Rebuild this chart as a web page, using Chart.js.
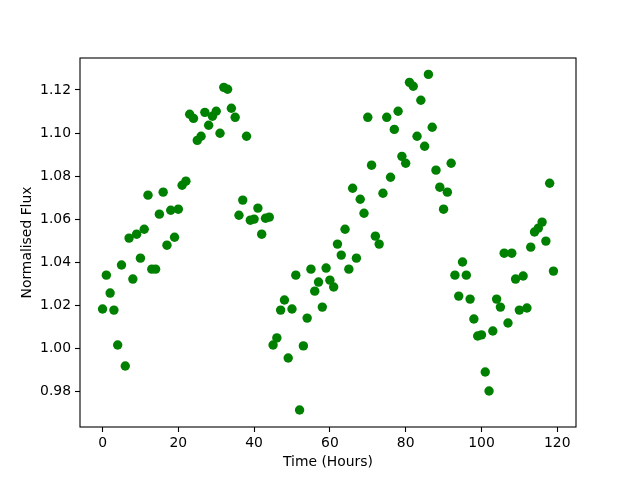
<!DOCTYPE html>
<html>
<head>
<meta charset="utf-8">
<script src="https://cdn.jsdelivr.net/npm/chart.js@4.4.1/dist/chart.umd.min.js"></script>
<style>
  body { margin: 0; background: #fff; }
</style>
</head>
<body>
<canvas id="myChart" width="640" height="480"></canvas>
<script>
const hours = [0,1,2,3,4,5,6,7,8,9,10,11,12,13,14,15,16,17,18,19,
  20,21,22,23,24,25,26,27,28,29,30,31,32,33,34,35,36,37,38,39,
  40,41,42,43,44,45,46,47,48,49,50,51,52,53,54,55,56,57,58,59,
  60,61,62,63,64,65,66,67,68,69,70,71,72,73,74,75,76,77,78,79,
  80,81,82,83,84,85,86,87,88,89,90,91,92,93,94,95,96,97,98,99,
  100,101,102,103,104,105,106,107,108,109,110,111,112,113,114,115,116,117,118,119]
const flux = [1.0184,1.0341,1.0258,1.0179,1.0017,1.0388,0.9920,1.0513,1.0323,1.0531,
  1.0420,1.0554,1.0712,1.0369,1.0369,1.0624,1.0726,1.0480,1.0642,1.0517,
  1.0647,1.0758,1.0777,1.1087,1.1068,1.0966,1.0985,1.1096,1.1036,1.1078,
  1.1101,1.0999,1.1212,1.1203,1.1115,1.1073,1.0619,1.0689,1.0985,1.0596,
  1.0601,1.0652,1.0531,1.0605,1.0610,1.0017,1.0050,1.0179,1.0226,0.9957,
  1.0184,1.0341,0.9716,1.0013,1.0142,1.0369,1.0267,1.0309,1.0193,1.0374,
  1.0318,1.0286,1.0485,1.0434,1.0554,1.0369,1.0744,1.0420,1.0693,1.0628,
  1.1073,1.0851,1.0522,1.0485,1.0721,1.1073,1.0795,1.1017,1.1101,1.0892,
  1.0860,1.1235,1.1217,1.0985,1.1152,1.0939,1.1272,1.1027,1.0828,1.0749,
  1.0647,1.0726,1.0860,1.0341,1.0244,1.0402,1.0341,1.0230,1.0138,1.0059,
  1.0064,0.9892,0.9804,1.0082,1.0230,1.0193,1.0443,1.0119,1.0443,1.0323,
  1.0179,1.0337,1.0189,1.0471,1.0541,1.0559,1.0587,1.0499,1.0767,1.0360]
const xTicks = [0, 20, 40, 60, 80, 100, 120]
const yTicks = [0.98, 1.00, 1.02, 1.04, 1.06, 1.08, 1.10, 1.12]

const points = hours.map((h, i) => ({x: h, y: flux[i]}))

// box round the plot area, like matplotlib's spines
const frame = {
  id: 'frame',
  afterDraw(chart) {
    const a = chart.chartArea
    const c = chart.ctx
    c.save()
    c.strokeStyle = '#000'
    c.lineWidth = 1.1
    c.strokeRect(a.left, a.top, a.right - a.left, a.bottom - a.top)
    c.restore()
  }
}

const font = {family: 'DejaVu Sans', size: 13.9}

const ctx = document.getElementById('myChart').getContext('2d')
const myChart = new Chart(ctx, {
  type: 'scatter',
  data: {
    datasets: [{
      label: 'flux',
      data: points,
      backgroundColor: '#008000',
      borderWidth: 0,
      pointRadius: 4.7,
      pointHoverRadius: 4.7
    }]
  },
  plugins: [frame],
  options: {
    responsive: false,
    animation: false,
    devicePixelRatio: 1,
    layout: {
      padding: {top: 58, right: 64, left: 15, bottom: 5}
    },
    plugins: {
      legend: {display: false},
      tooltip: {enabled: false}
    },
    scales: {
      x: {
        type: 'linear',
        min: -5.95,
        max: 124.95,
        afterBuildTicks: (scale) => { scale.ticks = xTicks.map(v => ({value: v})) },
        afterFit: (scale) => { scale.height = 48 },
        grid: {display: true, drawOnChartArea: false, color: '#000', tickLength: 5, tickWidth: 1.1},
        border: {display: false},
        ticks: {color: '#000', font: font, padding: 3, maxRotation: 0, autoSkip: false},
        title: {display: true, text: 'Time (Hours)', color: '#000', font: font, padding: {top: 4, bottom: 4}}
      },
      y: {
        type: 'linear',
        min: 0.9637,
        max: 1.1348,
        afterBuildTicks: (scale) => { scale.ticks = yTicks.map(v => ({value: v})) },
        afterFit: (scale) => { scale.width = 65 },
        grid: {display: true, drawOnChartArea: false, color: '#000', tickLength: 5, tickWidth: 1.1},
        border: {display: false},
        ticks: {color: '#000', font: font, padding: 4, autoSkip: false,
          callback: (v) => v.toFixed(2)},
        title: {display: true, text: 'Normalised Flux', color: '#000', font: font, padding: {top: 4, bottom: 4}}
      }
    }
  }
})
</script>
</body>
</html>
